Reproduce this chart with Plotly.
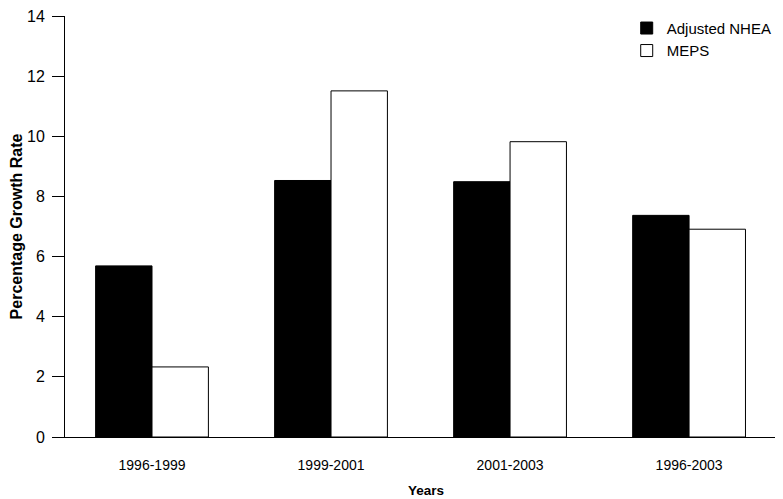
import plotly.graph_objects as go

# periods and growth rates
periods = ["1996-1999", "1999-2001", "2001-2003", "1996-2003"]
nhea = [5.69, 8.53, 8.49, 7.37]
meps = [2.33, 11.51, 9.82, 6.91]

fig = go.Figure()
fig.add_trace(go.Bar(x=periods, y=nhea, name="Adjusted NHEA",
                     marker=dict(color="black", line=dict(color="black", width=1))))
fig.add_trace(go.Bar(x=periods, y=meps, name="MEPS",
                     marker=dict(color="white", line=dict(color="black", width=1))))

# the page body adds an 8px margin, so margins are trimmed by that much
fig.update_layout(
    width=783, height=499,
    barmode="group", bargap=0.37, bargroupgap=0,
    plot_bgcolor="white", paper_bgcolor="white",
    font=dict(family="Liberation Sans, Arial, sans-serif", size=15, color="black"),
    margin=dict(l=57, r=4, t=5, b=70),
    legend=dict(x=0.778, y=1.01, xanchor="left", yanchor="top",
                font=dict(size=15), bgcolor="rgba(0,0,0,0)", traceorder="normal"),
    xaxis=dict(
        range=[-0.486, 3.547], automargin=False,
        showline=True, linecolor="black", linewidth=1,
        ticks="", showgrid=False, ticklabelstandoff=15,
        tickfont=dict(size=14),
        title=dict(text="<b>Years</b>", font=dict(size=13.5), standoff=13),
    ),
    yaxis=dict(
        range=[0, 14], dtick=2, automargin=False,
        showline=True, linecolor="black", linewidth=1,
        ticks="outside", ticklen=12, tickcolor="black", ticklabelstandoff=4,
        ticklabeloverflow="allow",
        showgrid=False, zeroline=False,
        tickfont=dict(size=16),
        title=dict(text="<b>Percentage Growth Rate</b>", font=dict(size=16), standoff=3),
    ),
)

fig.write_html("out.html")
